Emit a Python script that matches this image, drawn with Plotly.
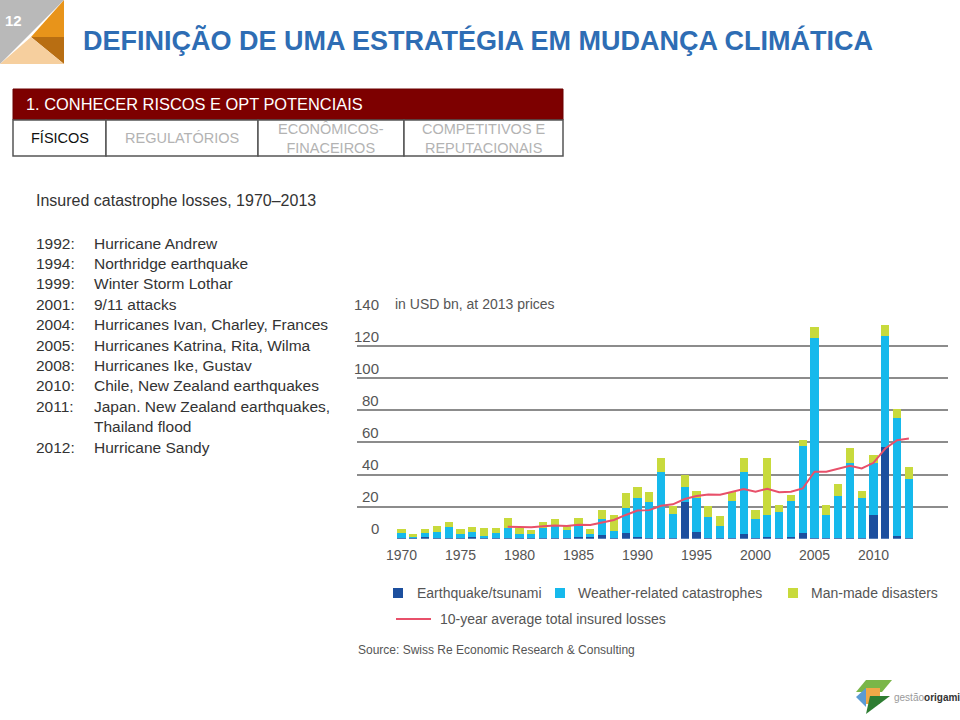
import plotly.graph_objects as go

W, H = 960, 720

years = list(range(1970, 2014))
earthquake = [0.3, 1.0, 1.2, 0.3, 0.2, 0.3, 0.8, 0.4, 0.2, 0.3,
              0.3, 0.2, 0.3, 0.2, 0.3, 1.2, 1.0, 2.0, 0.3, 3.5,
              1.0, 0.5, 0.3, 0.3, 23.0, 3.9, 0.3, 0.2, 0.3, 3.1,
              0.2, 1.2, 0.3, 0.8, 3.3, 0.3, 0.2, 0.5, 0.6, 0.5,
              14.7, 57.3, 1.7, 0.3]
weather = [3.5, 0.5, 2.2, 4.1, 7.1, 2.6, 3.2, 1.5, 3.1, 6.2,
           2.4, 2.5, 6.2, 8.3, 4.9, 7.3, 1.9, 10.5, 4.7, 15.5,
           24.4, 22.1, 41.0, 14.8, 9.0, 21.2, 13.4, 7.7, 23.4, 38.2,
           11.8, 13.5, 16.5, 22.6, 54.4, 124.8, 14.5, 26.3, 46.3, 24.6,
           32.2, 68.8, 73.6, 36.8]
manmade = [2.4, 1.2, 2.4, 3.5, 2.9, 2.9, 3.3, 5.0, 3.6, 6.6,
           4.2, 2.5, 3.7, 3.6, 3.1, 4.2, 3.3, 5.4, 9.6, 9.7,
           7.1, 6.2, 8.7, 5.2, 8.0, 4.6, 6.6, 6.2, 5.1, 8.7,
           5.8, 35.3, 4.2, 3.8, 3.7, 6.9, 6.3, 7.0, 9.7, 4.6,
           5.2, 7.3, 5.8, 7.7]
avg_years = list(range(1979, 2014))
avg_losses = [7.5, 7.3, 7.1, 7.7, 8.3, 7.9, 8.7, 8.5, 10.0, 11.7,
              14.8, 17.5, 17.8, 20.5, 21.4, 24.7, 26.6, 27.6, 27.4, 29.0,
              30.9, 29.3, 31.1, 29.0, 29.3, 31.3, 41.7, 41.7, 43.4, 45.4,
              43.8, 47.3, 56.2, 61.4, 62.4]

ytick_vals = [0, 20, 40, 60, 80, 100, 120, 140]
xtick_vals = [1970, 1975, 1980, 1985, 1990, 1995, 2000, 2005, 2010]

events = [("1992:", "Hurricane Andrew"),
          ("1994:", "Northridge earthquake"),
          ("1999:", "Winter Storm Lothar"),
          ("2001:", "9/11 attacks"),
          ("2004:", "Hurricanes Ivan, Charley, Frances"),
          ("2005:", "Hurricanes Katrina, Rita, Wilma"),
          ("2008:", "Hurricanes Ike, Gustav"),
          ("2010:", "Chile, New Zealand earthquakes"),
          ("2011:", "Japan. New Zealand earthquakes,"),
          ("", "Thailand flood"),
          ("2012:", "Hurricane Sandy")]

series_names = ["Earthquake/tsunami", "Weather-related catastrophes", "Man-made disasters"]
line_name = "10-year average total insured losses"

C_EQ = "#1c4f9e"
C_WX = "#16b9ec"
C_MM = "#c8da3c"
C_LINE = "#e8506a"
TXT = "#444444"
FONT = "Liberation Sans"


def px(x):
    return x / W


def py(y):
    return 1 - y / H


X0, X1 = 357, 948
Y0, Y140 = 538.7, 314.0
YEAR_PX = 11.8
x_lo = 1970 - (401.5 - X0) / YEAR_PX
x_hi = 1970 + (X1 - 401.5) / YEAR_PX

fig = go.Figure()
for vals, col, name in [(earthquake, C_EQ, series_names[0]),
                        (weather, C_WX, series_names[1]),
                        (manmade, C_MM, series_names[2])]:
    fig.add_trace(go.Bar(x=years, y=vals, marker=dict(color=col, line=dict(width=0)),
                         width=0.68, name=name, showlegend=False))
fig.add_trace(go.Scatter(x=avg_years, y=avg_losses, mode="lines",
                         line=dict(color=C_LINE, width=2), name=line_name, showlegend=False))

fig.update_layout(
    width=W, height=H, margin=dict(l=0, r=0, t=0, b=0),
    paper_bgcolor="white", plot_bgcolor="white",
    barmode="stack", bargap=0.3,
    font=dict(family=FONT, color=TXT),
    xaxis=dict(domain=[px(X0), px(X1)], range=[x_lo, x_hi], tickvals=xtick_vals,
               showgrid=False, zeroline=False, showline=False, ticks="",
               tickfont=dict(size=14, color="#555555", family=FONT), ticklabelstandoff=6),
    yaxis=dict(domain=[py(Y0), py(Y140)], range=[0, 140], tickvals=ytick_vals,
               showticklabels=False, showgrid=True, gridcolor="#8c8c8c", gridwidth=2,
               zeroline=False, showline=False),
)

shapes = []
annotations = []

# y tick labels above gridlines
for v in ytick_vals:
    yy = Y0 - (Y0 - Y140) * v / 140
    annotations.append(dict(x=px(381), y=py(yy - 10), xref="paper", yref="paper",
                            text=str(v), showarrow=False, xanchor="right", yanchor="middle",
                            font=dict(size=15, color="#555555")))
annotations.append(dict(x=px(393), y=py(304), xref="paper", yref="paper",
                        text="in USD bn, at 2013 prices", showarrow=False,
                        xanchor="left", yanchor="middle", font=dict(size=14, color="#555555")))

# legend
leg = [(398, 415, 593, C_EQ, series_names[0]),
       (560, 576, 593, C_WX, series_names[1]),
       (793, 809, 593, C_MM, series_names[2])]
for sx, tx, ly, col, name in leg:
    shapes.append(dict(type="rect", xref="paper", yref="paper",
                       x0=px(sx - 5), x1=px(sx + 5), y0=py(ly + 5), y1=py(ly - 5),
                       fillcolor=col, line=dict(width=0)))
    annotations.append(dict(x=px(tx), y=py(ly), xref="paper", yref="paper", text=name,
                            showarrow=False, xanchor="left", yanchor="middle",
                            font=dict(size=14, color="#555555")))
shapes.append(dict(type="line", xref="paper", yref="paper", x0=px(396), x1=px(431),
                   y0=py(619), y1=py(619), line=dict(color=C_LINE, width=2)))
annotations.append(dict(x=px(438), y=py(619), xref="paper", yref="paper", text=line_name,
                        showarrow=False, xanchor="left", yanchor="middle",
                        font=dict(size=14, color="#555555")))
annotations.append(dict(x=px(356), y=py(650), xref="paper", yref="paper",
                        text="Source: Swiss Re Economic Research & Consulting",
                        showarrow=False, xanchor="left", yanchor="middle",
                        font=dict(size=12, color="#555555")))

# left text block
annotations.append(dict(x=px(34), y=py(200), xref="paper", yref="paper",
                        text="Insured catastrophe losses, 1970–2013", showarrow=False,
                        xanchor="left", yanchor="middle", font=dict(size=16, color="#333333")))
for i, (yr, ev) in enumerate(events):
    yy = 243 + i * 20.4
    if yr:
        annotations.append(dict(x=px(34), y=py(yy), xref="paper", yref="paper", text=yr,
                                showarrow=False, xanchor="left", yanchor="middle",
                                font=dict(size=15.5, color="#333333")))
    annotations.append(dict(x=px(92), y=py(yy), xref="paper", yref="paper", text=ev,
                            showarrow=False, xanchor="left", yanchor="middle",
                            font=dict(size=15.5, color="#333333")))

# slide header: number badge
def poly(points, color):
    path = "M " + " L ".join(f"{px(x)},{py(y)}" for x, y in points) + " Z"
    return dict(type="path", xref="paper", yref="paper", path=path,
                fillcolor=color, line=dict(width=0))

shapes.append(poly([(0, 0), (64, 0), (0, 64)], "#b9b9b9"))
shapes.append(poly([(64, 0), (64, 37), (31, 37)], "#e8941a"))
shapes.append(poly([(31, 37), (64, 37), (64, 64)], "#b86e12"))
shapes.append(poly([(0, 64), (31, 37), (64, 64)], "#f6cf9e"))
annotations.append(dict(x=px(13), y=py(20), xref="paper", yref="paper", text="<b>12</b>",
                        showarrow=False, xanchor="center", yanchor="middle",
                        font=dict(size=15, color="white", family="Liberation Sans")))

annotations.append(dict(x=px(81), y=py(40), xref="paper", yref="paper",
                        text="<b>DEFINIÇÃO DE UMA ESTRATÉGIA EM MUDANÇA CLIMÁTICA</b>",
                        showarrow=False, xanchor="left", yanchor="middle",
                        font=dict(size=27, color="#2e6db4", family="Liberation Sans")))

# red header box and cells
shapes.append(dict(type="rect", xref="paper", yref="paper", x0=px(13), x1=px(563),
                   y0=py(120), y1=py(89), fillcolor="#7d0000", line=dict(color="#6a0000", width=1)))
annotations.append(dict(x=px(24), y=py(104), xref="paper", yref="paper",
                        text="1. CONHECER RISCOS E OPT POTENCIAIS", showarrow=False,
                        xanchor="left", yanchor="middle",
                        font=dict(size=16.4, color="white", family="Liberation Sans")))
cells = [(13, 106, "FÍSICOS", "#111111"),
         (106, 258, "REGULATÓRIOS", "#b3b3b3"),
         (258, 404, "ECONÔMICOS-<br>FINACEIROS", "#b3b3b3"),
         (404, 563, "COMPETITIVOS E<br>REPUTACIONAIS", "#b3b3b3")]
for cx0, cx1, label, col in cells:
    shapes.append(dict(type="rect", xref="paper", yref="paper", x0=px(cx0), x1=px(cx1),
                       y0=py(156), y1=py(120), fillcolor="white",
                       line=dict(color="#555555", width=1.5)))
    annotations.append(dict(x=px((cx0 + cx1) / 2), y=py(138), xref="paper", yref="paper",
                            text=label, showarrow=False, xanchor="center", yanchor="middle",
                            font=dict(size=14.5, color=col, family="Liberation Sans")))

# logo
shapes.append(poly([(866, 680), (892, 680), (882, 692), (856, 692)], "#7ab648"))
shapes.append(poly([(856, 697), (866, 688), (866, 707)], "#5b9bd5"))
shapes.append(poly([(866, 688), (880, 688), (880, 704), (866, 704)], "#f0a848"))
shapes.append(poly([(866, 714), (890, 696), (870, 696)], "#2e7d32"))
annotations.append(dict(x=px(892), y=py(697), xref="paper", yref="paper",
                        text="<span style='color:#9a9a9a'>gestão</span><b>origami</b>",
                        showarrow=False, xanchor="left", yanchor="middle",
                        font=dict(size=10, color="#333333", family="Liberation Sans")))

fig.update_layout(shapes=shapes, annotations=annotations)
fig.write_html("out.html", config={"displayModeBar": False},
               post_script="document.body.style.margin='0';")
